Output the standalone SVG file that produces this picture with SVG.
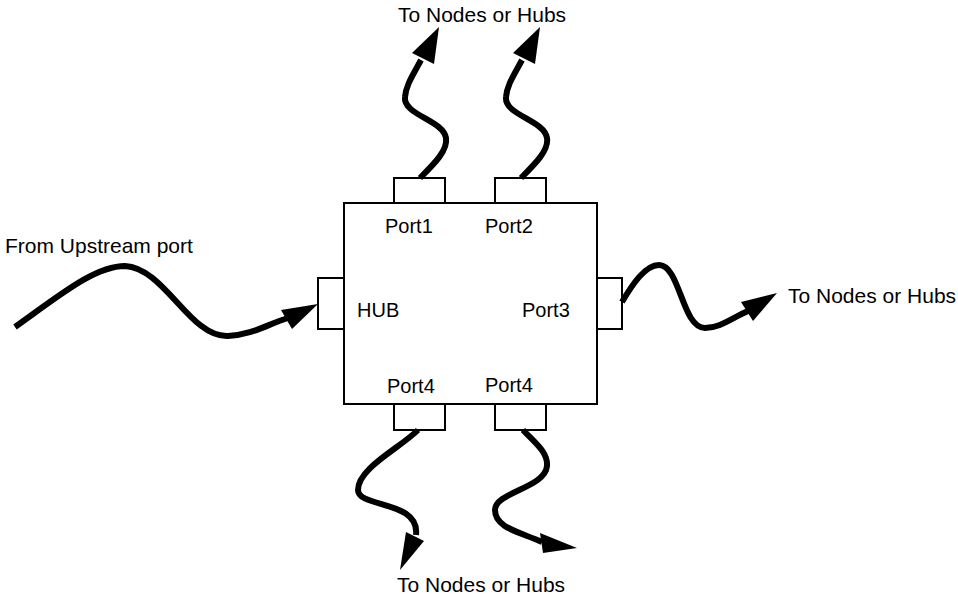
<svg xmlns="http://www.w3.org/2000/svg" width="958" height="600" viewBox="0 0 958 600">
<style>
text{font-family:"Liberation Sans",Arial,sans-serif;font-size:21px;fill:#000}
.lbl{font-size:20px}
.box{fill:#fff;stroke:#000;stroke-width:2}
.wire{fill:none;stroke:#000;stroke-width:6}
.head{fill:#000}
</style>
<rect width="958" height="600" fill="#fff"/>
<g id="hub">
<rect class="box" x="344" y="203" width="253" height="201"/>
<text class="lbl" x="357" y="317">HUB</text>
</g>
<g id="port1"><rect class="box" x="394" y="178" width="51" height="25"/><text class="lbl" x="385" y="233">Port1</text></g>
<g id="port2"><rect class="box" x="495" y="178" width="51" height="25"/><text class="lbl" x="485" y="233">Port2</text></g>
<g id="port3"><rect class="box" x="597" y="278" width="25" height="51"/><text class="lbl" x="522" y="317">Port3</text></g>
<g id="port4a"><rect class="box" x="394" y="404" width="51" height="26"/><text class="lbl" x="387" y="393">Port4</text></g>
<g id="port4b"><rect class="box" x="495" y="404" width="51" height="26"/><text class="lbl" x="485" y="392">Port4</text></g>
<g id="upstream"><rect class="box" x="318" y="278" width="26" height="51"/></g>
<g id="labels">
<text x="398" y="22">To Nodes or Hubs</text>
<text x="5" y="253">From Upstream port</text>
<text x="788" y="303">To Nodes or Hubs</text>
<text x="397" y="592">To Nodes or Hubs</text>
</g>
<g id="connectors">
<path class="wire" d="M15,327 C60,295 95,266 125,266 C165,268 190,338 228,336 C252,335 268,324 288,318"/>
<polygon class="head" points="318,304 281,310 292,329"/>
<path class="wire" d="M622,302 C632,285 645,265 659,265 C680,265 682,328 705,328 C720,328 732,318 748,311"/>
<polygon class="head" points="777,293 741,302 753,321"/>
<path class="wire" d="M420,178 C435,163 448,150 446,138 C443,120 403,115 405,97 C406,85 413,75 421,60"/>
<polygon class="head" points="439,27 412,53 434,64"/>
<path class="wire" d="M521,178 C536,163 549,150 547,138 C544,120 504,115 506,97 C507,85 514,75 522,60"/>
<polygon class="head" points="540,27 513,53 535,64"/>
<path class="wire" d="M418,430 C400,448 358,468 358,490 C358,508 420,500 416,535"/>
<polygon class="head" points="400,570 406,532 424,541"/>
<path class="wire" d="M523,430 C535,443 548,452 547,466 C545,488 495,492 495,510 C495,528 520,532 542,542"/>
<polygon class="head" points="577,548 540,533 543,553"/>
</g>
</svg>
